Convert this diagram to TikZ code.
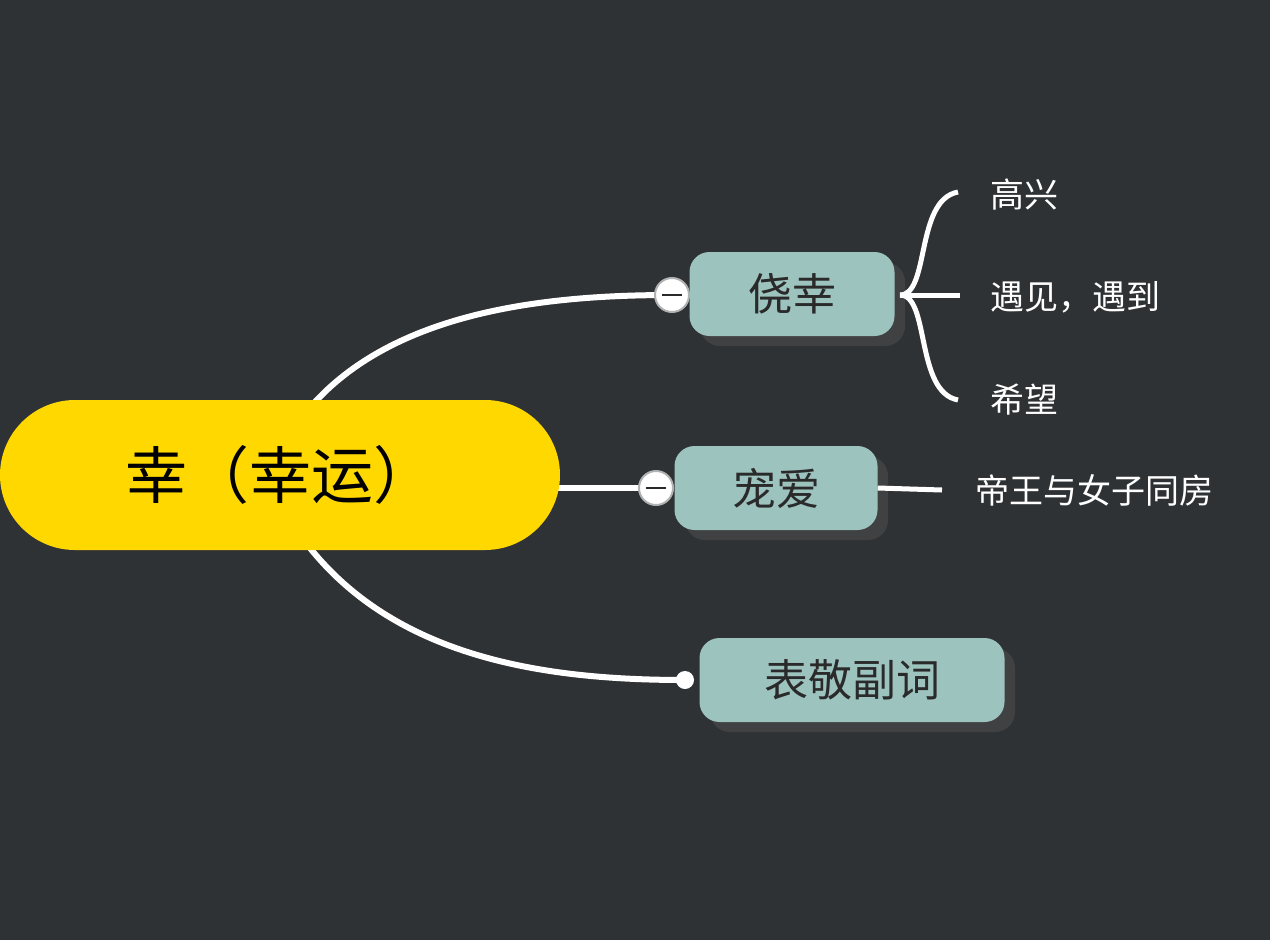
\documentclass[tikz,border=0pt]{standalone}
\usepackage{fontspec}
\setmainfont{Noto Sans CJK SC}
\definecolor{bg}{HTML}{2F3234}
\definecolor{teal}{HTML}{9DC3BF}
\definecolor{yel}{HTML}{FFD800}
\definecolor{txt}{HTML}{2A2A2A}
\tikzset{
  sub/.style={fill=teal,rounded corners=20pt,text=txt,font=\fontsize{44}{44}\selectfont,inner sep=0pt,minimum height=84pt},
  shad/.style={fill=black!70,opacity=0.6,rounded corners=20pt},
  link/.style={white,line width=6pt},
  leaf/.style={text=white,font=\fontsize{34}{34}\selectfont,anchor=west,inner sep=0pt},
  knob/.style={circle,draw=gray!60,line width=2pt,fill=white,minimum size=34pt,inner sep=0pt}
}
\begin{document}
\begin{tikzpicture}[x=1pt,y=-1pt]
\fill[bg] (0,0) rectangle (1270,940);
\useasboundingbox (0,0) rectangle (1270,940);
% connectors
\coordinate (c1) at (672,295);
\coordinate (c2) at (656,488);
\coordinate (c3) at (685,680);
\draw[link] (315,402) .. controls (400,310) and (550,295) .. (c1);
\draw[link] (555,488) -- (c2);
\draw[link] (310,548) .. controls (400,660) and (550,680) .. (c3);
% shadows
\fill[shad] (700,262) rectangle (905,346);
\fill[shad] (685,456) rectangle (888,540);
\fill[shad] (710,648) rectangle (1015,732);
% nodes
\node[fill=yel,rounded corners=75pt,minimum width=560pt,minimum height=150pt,inner sep=0pt,font=\fontsize{62}{62}\selectfont,text=black] (root) at (280,475) {幸（幸运）};
\node[sub,minimum width=205pt] (a) at (792,294) {侥幸};
\node[sub,minimum width=203pt] (b) at (776,488) {宠爱};
\node[sub,minimum width=305pt] (c) at (852,680) {表敬副词};
\node[knob] at (c1) {};
\draw[txt,line width=2.5pt] (662,295) -- (682,295);
\node[knob] at (c2) {};
\draw[txt,line width=2.5pt] (646,488) -- (666,488);
\fill[white] (c3) circle (9pt);
% leaves
\coordinate (br) at (900,295);
\draw[link,line width=5pt] (br) .. controls (930,295) and (915,200) .. (958,192);
\draw[link,line width=5pt] (br) .. controls (930,295) and (915,392) .. (958,400);
\draw[link,line width=5pt] (br) -- (960,295);
\draw[link,line width=5pt] (b.east) -- (942,490);
\node[leaf] (l1) at (990,195) {高兴};
\node[leaf] (l2) at (990,297) {遇见，遇到};
\node[leaf] (l3) at (990,400) {希望};
\node[leaf] (l4) at (975,490) {帝王与女子同房};
\end{tikzpicture}
\end{document}
